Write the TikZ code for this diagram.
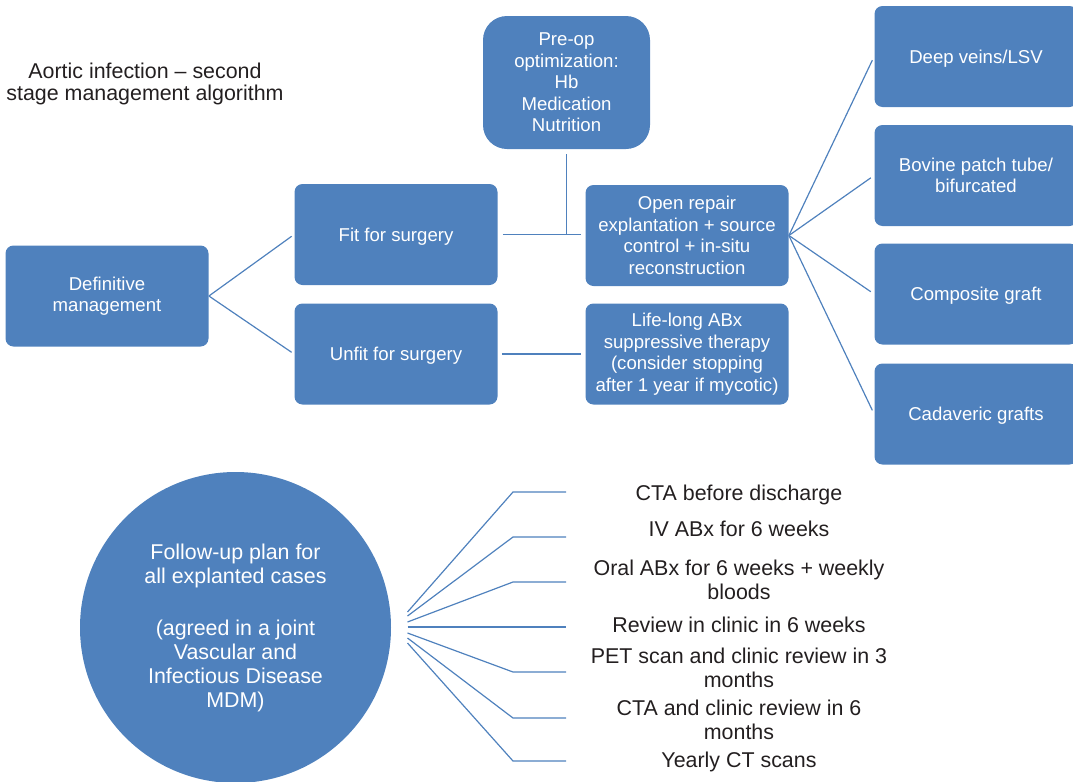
\documentclass[tikz,border=0pt]{standalone}
\usepackage{fontspec}
\setmainfont{Liberation Sans}
\definecolor{boxblue}{RGB}{79,129,189}
\definecolor{lineblue}{RGB}{79,129,189}
\definecolor{listgray}{RGB}{35,31,32}

\begin{document}
\begin{tikzpicture}[x=0.5pt,y=-0.5pt,
  box/.style={fill=boxblue, rounded corners=4pt, text=white, align=center, minimum width=101.5pt, minimum height=50.5pt, inner sep=1pt, font=\fontsize{9.3}{10.75}\selectfont},
  onebox/.style={box, text depth=0pt},
  link/.style={draw=lineblue, line width=0.6pt},
  item/.style={anchor=base, align=center, text=listgray, inner sep=0pt, font=\fontsize{10.7}{11.7}\selectfont}]
\useasboundingbox (0,0) rectangle (1073,782);

% Text Node
\node[anchor=base, align=center, text=listgray, inner sep=0pt, font=\fontsize{10.7}{11}\selectfont] (title) at (145,100) {Aortic infection – second\\stage management algorithm};

%Shape: Rectangle
\node[box] (defin) at (107,296) {Definitive\\management};
\node[onebox] (fit) at (396,234.5) {Fit for surgery};
\node[onebox] (unfit) at (396,354) {Unfit for surgery};
%Shape: Rectangle, rounder
\node[box, minimum width=83.5pt, minimum height=66.5pt, rounded corners=12pt] (preop) at (566.5,82.5) {Pre-op\\optimization:\\Hb\\Medication\\Nutrition};
\node[box] (open) at (687,235.5) {Open repair\\explantation + source\\control + in-situ\\reconstruction};
\node[box] (lifelong) at (687,354) {Life-long ABx\\suppressive therapy\\(consider stopping\\after 1 year if mycotic)};
\node[onebox] (deep) at (976,56.5) {Deep veins/LSV};
\node[box] (bovine) at (976,175.5) {Bovine patch tube/\\bifurcated};
\node[onebox] (comp) at (976,294) {Composite graft};
\node[onebox] (cadav) at (976,414) {Cadaveric grafts};

%Straight Lines
\draw[link, shorten >=1.5pt] (defin.east) -- (fit.west);
\draw[link, shorten >=1.5pt] (defin.east) -- (unfit.west);
\draw[link, shorten <=2.5pt, shorten >=2pt] (fit.east) -- (fit.east -| open.west);
\draw[link, shorten <=2.5pt] (preop.south) -- (preop.south |- fit.east);
\draw[link, shorten <=2pt, shorten >=2pt] (unfit.east) -- (lifelong.west);
\foreach \b in {deep,bovine,comp,cadav}
  \draw[link, shorten >=2pt] (open.east) -- (\b.west);

%Shape: Circle
\node[circle, fill=boxblue, minimum size=155.5pt, inner sep=0pt, text=white, align=center, font=\fontsize{10.7}{12}\selectfont] (follow) at (235.5,627.5) {Follow-up plan for\\all explanted cases\\[14pt](agreed in a joint\\Vascular and\\Infectious Disease\\MDM)};

%Straight Lines: fan
\foreach \i/\sy/\ky in {1/612/492, 2/616/537, 3/622/582, 4/627/627, 5/633/672, 6/638/718, 7/643/761} {
  \coordinate (s\i) at (407.5,\sy);
  \coordinate (k\i) at (513,\ky);
  \coordinate (e\i) at (566,\ky);
  \draw[link] (s\i) -- (k\i) -- (e\i);
}

% Text Node
\node[item] (cta) at (739,500) {CTA before discharge};
\node[item] (ivabx) at (739,536) {IV ABx for 6 weeks};
\node[item] (oral) at (739,599) {Oral ABx for 6 weeks + weekly\\bloods};
\node[item] (review) at (739,632) {Review in clinic in 6 weeks};
\node[item] (pet) at (739,687) {PET scan and clinic review in 3\\months};
\node[item] (ctasix) at (739,739) {CTA and clinic review in 6\\months};
\node[item] (yearly) at (739,767) {Yearly CT scans};

\end{tikzpicture}
\end{document}
